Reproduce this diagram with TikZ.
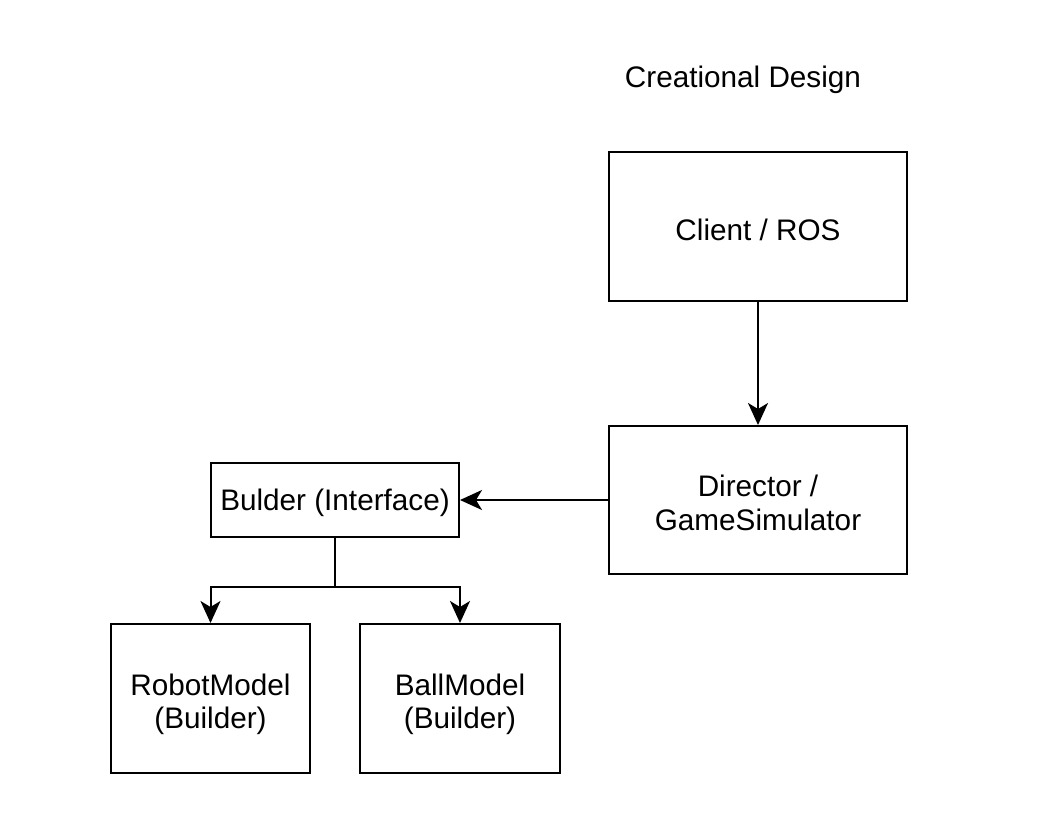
\documentclass[tikz,border=0pt]{standalone}
\usepackage{fontspec}
\setmainfont{Liberation Sans}
\usetikzlibrary{arrows.meta}
\begin{document}
\begin{tikzpicture}[x=1pt,y=-1pt,
  txt/.style={font=\fontsize{29.7}{33.5}\selectfont, align=center},
  box/.style={draw, line width=2pt, rectangle, inner sep=0pt},
  conn/.style={line width=2pt, -{Stealth[length=22pt,width=20pt,inset=6pt]}}]
\useasboundingbox[fill=white] (0,0) rectangle (1038,836);
\node[txt] (title) at (743,80) {Creational Design};
\node[box, minimum width=298pt, minimum height=149pt,
  label={[txt, yshift=-3pt]center:Client / ROS}] (client) at (758,226.5) {};
\node[box, minimum width=298pt, minimum height=148pt,
  label={[txt, yshift=-3pt]center:Director /\\GameSimulator}] (director) at (758,500) {};
\node[box, minimum width=248pt, minimum height=74pt,
  label={[txt, yshift=-3pt]center:Bulder (Interface)}] (builder) at (335,500) {};
\node[box, minimum width=199pt, minimum height=149pt,
  label={[txt, yshift=-6pt]center:RobotModel\\(Builder)}] (robot) at (210.5,698.5) {};
\node[box, minimum width=200pt, minimum height=149pt,
  label={[txt, yshift=-6pt]center:BallModel\\(Builder)}] (ball) at (460,698.5) {};
\coordinate (j) at (335,587);
\draw[conn] (client.south) -- (director.north);
\draw[conn] (director.west) -- (builder.east);
\draw[line width=2pt] (builder.south) -- (j);
\draw[conn] (j) -| (robot.north);
\draw[conn] (j) -| (ball.north);
\end{tikzpicture}
\end{document}
